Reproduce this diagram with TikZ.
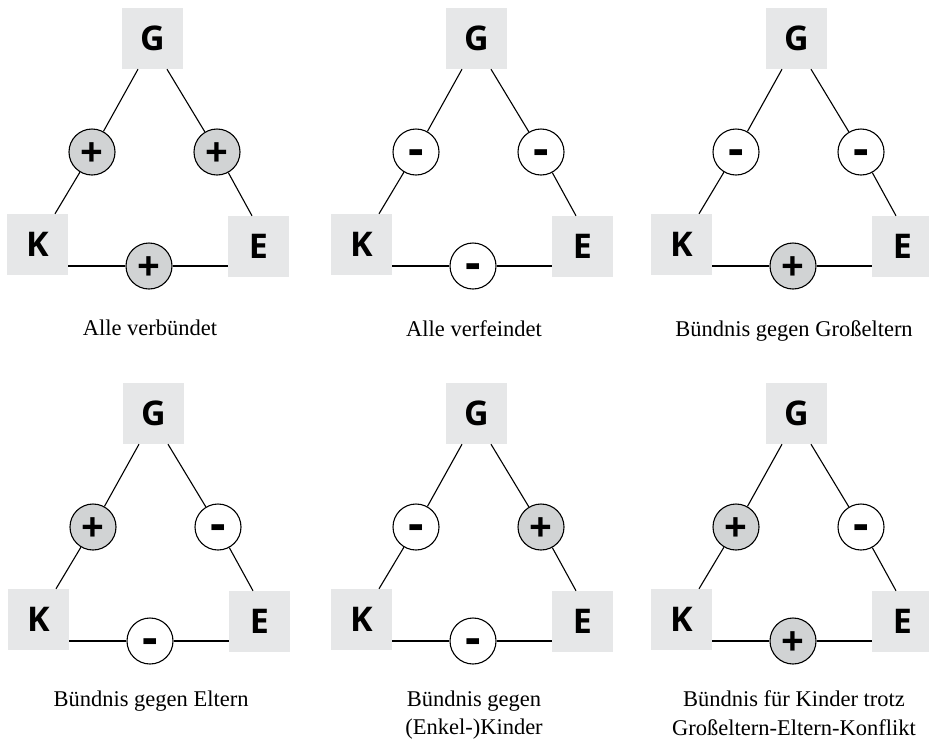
\documentclass[tikz,border=0pt]{standalone}
\usepackage{fontspec}
\setmainfont{Liberation Serif}
\setsansfont{Open Sans}
\usetikzlibrary{calc}

\definecolor{boxgray}{HTML}{E6E7E8}
\definecolor{bondgray}{HTML}{D1D3D4}

\tikzset{
  person/.style={fill=boxgray, minimum size=61pt, inner sep=0pt,
    font=\sffamily\bfseries\fontsize{34}{34}\selectfont},
  rel/.style={draw, circle, line width=1.1pt, minimum size=46pt, inner sep=0pt,
    text height=0pt, text depth=0pt},
  pro/.style={rel, fill=bondgray, font=\sffamily\bfseries\fontsize{40}{40}\selectfont,
    node contents={\raisebox{-.35em}{+}}},
  contra/.style={rel, fill=white, font=\sffamily\bfseries\fontsize{48}{48}\selectfont,
    node contents={\raisebox{-.28em}{-}}},
  caption/.style={align=center, anchor=north, inner sep=0pt,
    font=\fontsize{22.5}{28.5}\selectfont},
  link/.style={line width=1.1pt}
}

\begin{document}
\begin{tikzpicture}[x=1pt, y=-1pt]
\useasboundingbox (0,0) rectangle (929,740);

\foreach \n/\x/\y/\ty/\a/\b/\c/\txt in {
  1/0/0/320/pro/pro/pro/{Alle verbündet},
  2/324/0/320/contra/contra/contra/{Alle verfeindet},
  3/644/0/320/contra/contra/pro/{Bündnis gegen Großeltern},
  4/1/375/315.5/pro/contra/contra/{Bündnis gegen Eltern},
  5/324/375/315.5/contra/pro/contra/{Bündnis gegen\\(Enkel-)Kinder},
  6/644/375/315.5/pro/contra/pro/{Bündnis für Kinder trotz\\Großeltern-Eltern-Konflikt}}
{
  \begin{scope}[shift={(\x,\y)}]
    % Grosseltern, Kinder, Eltern
    \node[person] (G\n) at (152.5,38.5) {G};
    \node[person] (K\n) at (37.5,244.5) {K};
    \node[person] (E\n) at (258.5,246.5) {E};

    % Beziehungen
    \node (GK\n) at (92,152) [\a];
    \node (GE\n) at (217,152) [\b];
    \node (KE\n) at (149,266) [\c];

    \draw[link] ([xshift=-14.5pt]G\n.south) -- (GK\n) -- ([xshift=17.5pt]K\n.north);
    \draw[link] ([xshift=14.5pt]G\n.south) -- (GE\n) -- ([xshift=-6.5pt]E\n.north);
    \draw[link] (K\n.east |- KE\n) -- (KE\n) -- (E\n.west |- KE\n);

    %Labels
    \node[caption] (T\n) at (150,\ty) {\txt};
  \end{scope}
}
\end{tikzpicture}
\end{document}
